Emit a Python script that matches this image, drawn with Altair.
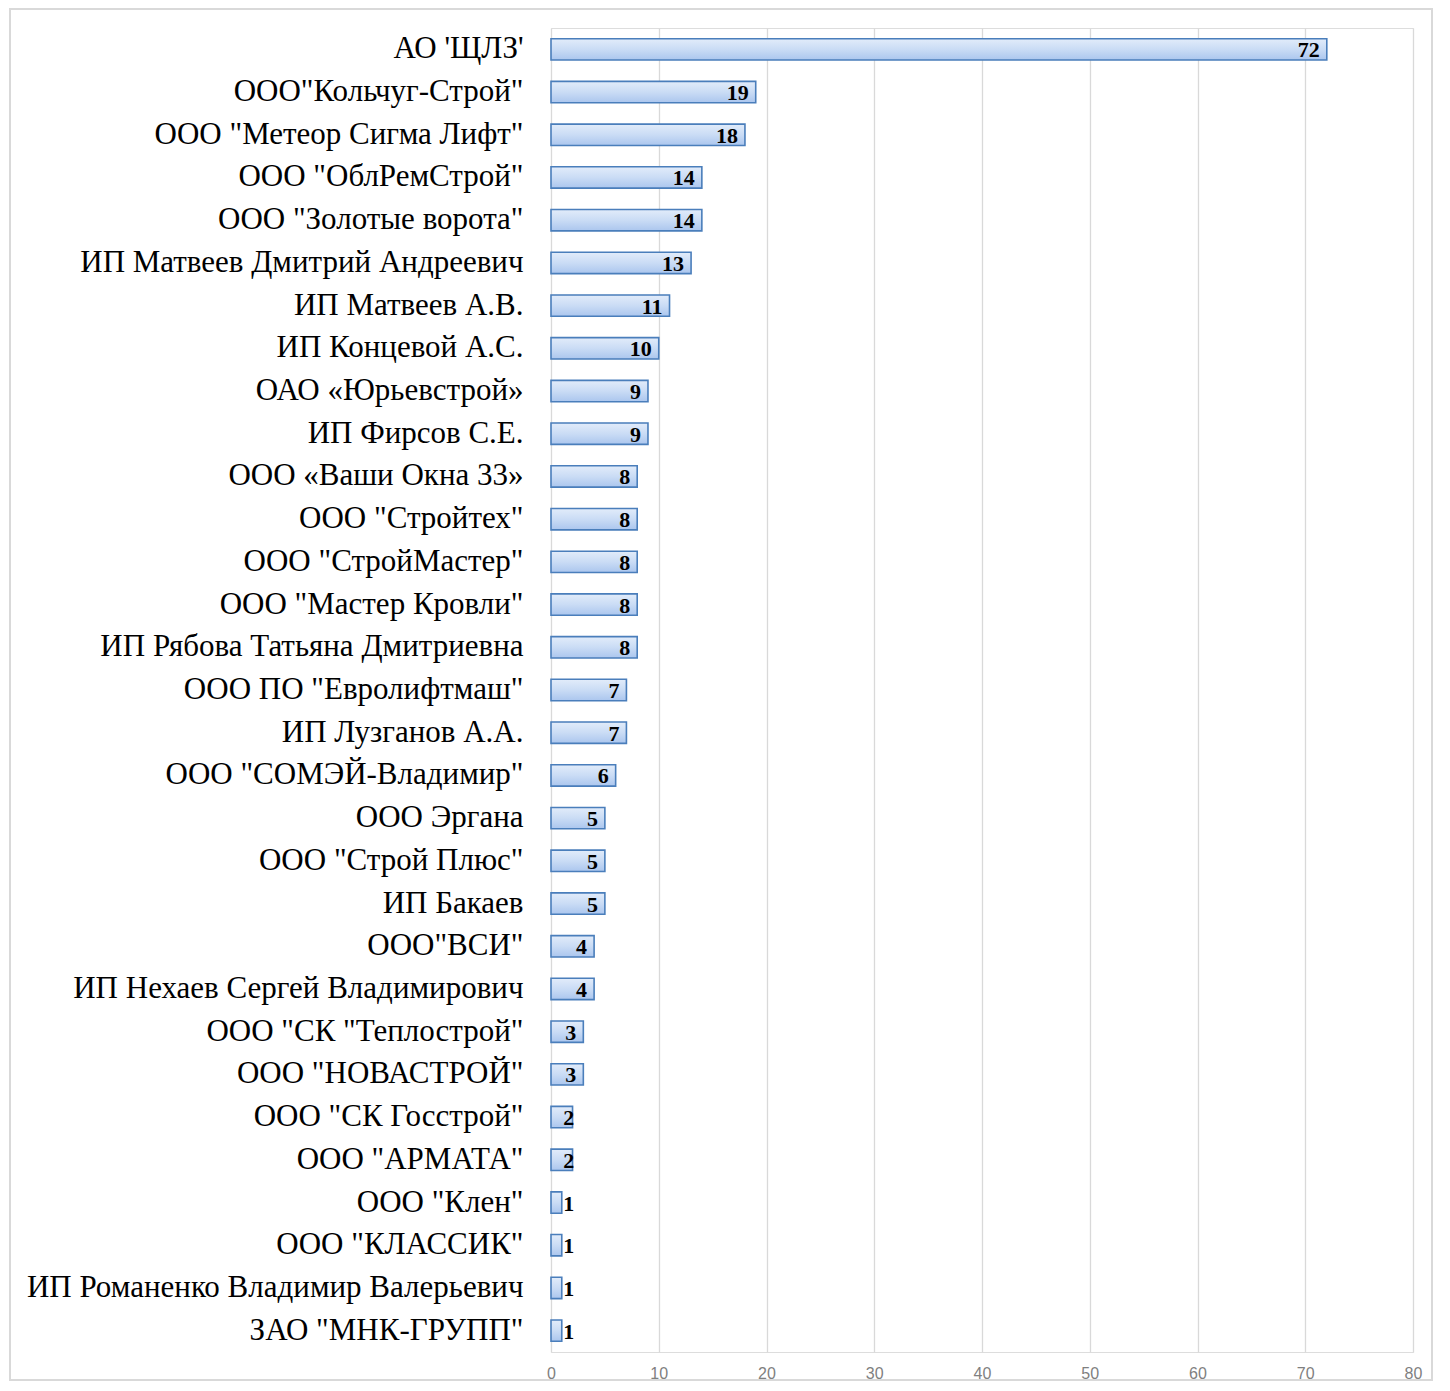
import altair as alt
import pandas as pd

categories = [
    "АО 'ЩЛЗ'", 'ООО"Кольчуг-Строй"', 'ООО "Метеор Сигма Лифт"', 'ООО "ОблРемСтрой"',
    'ООО "Золотые ворота"', "ИП Матвеев Дмитрий Андреевич", "ИП Матвеев А.В.",
    "ИП Концевой А.С.", "ОАО «Юрьевстрой»", "ИП Фирсов С.Е.", "ООО «Ваши Окна 33»",
    'ООО "Стройтех"', 'ООО "СтройМастер"', 'ООО "Мастер Кровли"',
    "ИП Рябова Татьяна Дмитриевна", 'ООО ПО "Евролифтмаш"', "ИП Лузганов А.А.",
    'ООО "СОМЭЙ-Владимир"', "ООО Эргана", 'ООО "Строй Плюс"', "ИП Бакаев",
    'ООО"ВСИ"', "ИП Нехаев Сергей Владимирович", 'ООО "СК "Теплострой"',
    'ООО "НОВАСТРОЙ"', 'ООО "СК Госстрой"', 'ООО "АРМАТА"', 'ООО "Клен"',
    'ООО "КЛАССИК"', "ИП Романенко Владимир Валерьевич", 'ЗАО "МНК-ГРУПП"',
]
values = [72, 19, 18, 14, 14, 13, 11, 10, 9, 9, 8, 8, 8, 8, 8, 7, 7, 6, 5, 5, 5,
          4, 4, 3, 3, 2, 2, 1, 1, 1, 1]
x_ticks = [0, 10, 20, 30, 40, 50, 60, 70, 80]

df = pd.DataFrame({"cat": categories, "val": values})
df["lpos"] = df["val"].clip(lower=2.8)

W, H = 862, 1324

y_enc = alt.Y("cat:N", sort=categories,
              scale=alt.Scale(paddingInner=0.5, paddingOuter=0.25),
              axis=alt.Axis(title=None, domain=False, ticks=False, labelFont="Liberation Serif",
                            labelFontSize=31, labelColor="#000000", labelPadding=28,
                            labelLimit=600))
x_enc = alt.X("val:Q", scale=alt.Scale(domain=[0, 80], nice=False),
              axis=alt.Axis(title=None, values=x_ticks, domain=False, ticks=False,
                            grid=True, gridColor="#d9d9d9", gridWidth=1.3,
                            labelFont="Liberation Sans", labelFontSize=16, labelFlush=False,
                            labelColor="#7f7f7f", labelPadding=13))

grad = alt.Gradient(gradient="linear", x1=0, x2=0, y1=0, y2=1,
                    stops=[alt.GradientStop(color="#e2ecfa", offset=0),
                           alt.GradientStop(color="#cadcf5", offset=0.5),
                           alt.GradientStop(color="#abc6ee", offset=1)])

bars = alt.Chart(df).mark_bar(fill=grad, stroke="#4a7ebb", strokeWidth=1.6).encode(
    y=y_enc, x=x_enc)

labels = alt.Chart(df).mark_text(font="Liberation Serif", fontWeight="bold", fontSize=22,
                                 align="right", baseline="middle", dx=-7, dy=1,
                                 color="#000000").encode(
    y=alt.Y("cat:N", sort=categories), x=alt.X("lpos:Q"), text="val:Q")

frame = alt.Chart(pd.DataFrame({"a": [0]})).mark_rect(
    fill=None, stroke="#d9d9d9", strokeWidth=2).encode(
    x=alt.value(-541), x2=alt.value(881), y=alt.value(-19), y2=alt.value(1352))

chart = alt.layer(frame, bars, labels).properties(
    width=W, height=H,
    autosize=alt.AutoSizeParams(type="none"),
    padding={"left": 543, "top": 20, "right": 29, "bottom": 29},
).configure_view(strokeWidth=0).configure(background="white")

chart.save("out.html", embed_options={"renderer": "svg", "actions": False})
